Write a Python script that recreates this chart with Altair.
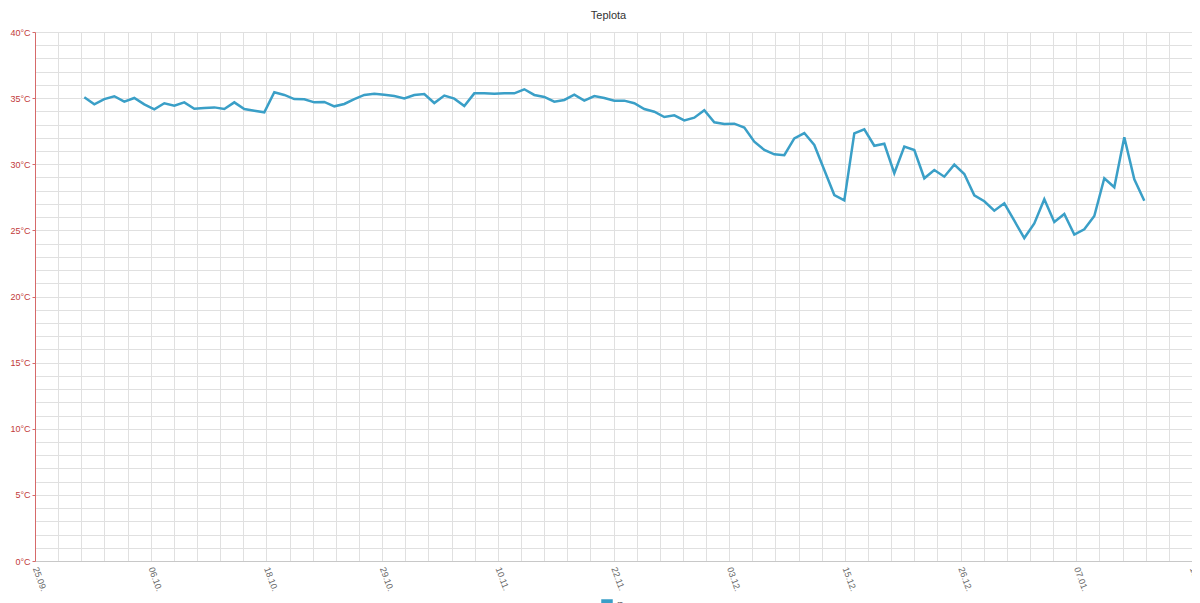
import json
import altair as alt
import pandas as pd

chart_title = "Teplota"
series_name = "n"
tick_labels = ["25.09.", "06.10.", "18.10.", "29.10.", "10.11.", "22.11.",
               "03.12.", "15.12.", "26.12.", "07.01.", "18.01."]

temps = [
    35.06, 34.53, 34.93, 35.14, 34.73, 35.01, 34.53, 34.15, 34.61, 34.43,
    34.68, 34.20, 34.25, 34.30, 34.18, 34.68, 34.18, 34.05, 33.93, 35.44,
    35.24, 34.93, 34.91, 34.68, 34.71, 34.38, 34.56, 34.93, 35.24, 35.33,
    35.26, 35.16, 34.98, 35.24, 35.31, 34.63, 35.19, 34.96, 34.40, 35.36,
    35.36, 35.33, 35.36, 35.36, 35.67, 35.24, 35.09, 34.73, 34.86, 35.26,
    34.81, 35.16, 35.01, 34.81, 34.81, 34.61, 34.18, 33.97, 33.57, 33.70,
    33.32, 33.52, 34.08, 33.17, 33.04, 33.07, 32.77, 31.71, 31.08, 30.75,
    30.68, 31.96, 32.36, 31.46, 29.57, 27.67, 27.27, 32.34, 32.64, 31.40,
    31.55, 29.32, 31.33, 31.08, 28.94, 29.57, 29.06, 29.97, 29.26, 27.65,
    27.20, 26.49, 27.05, 25.73, 24.42, 25.53, 27.35, 25.63, 26.24, 24.68,
    25.08, 26.09, 28.94, 28.26, 32.04, 28.86, 27.24,
]
day_index = list(range(len(temps)))

# axis layout (in day-index units): 10 major intervals, 5 minor grid steps each
x_start = -4.93
major_step = 11.57
minor_step = 2.314
x_grid = [round(x_start + k * minor_step, 4) for k in range(51)]
x_end = x_grid[-1]
y_grid = list(range(0, 41))

df = pd.DataFrame({"i": day_index, "t": temps, "s": [series_name] * len(temps)})

label_expr = (
    f"(round((datum.value - ({x_start})) / {minor_step}) % 5 == 0) ? "
    f"{json.dumps(tick_labels)}[round((datum.value - ({x_start})) / {major_step})] : ''"
)

line_color = "#3a9fc7"
grid_color = "#e0e0e0"
red_axis = "#d66a6a"
red_label = "#c23a3a"

chart = alt.Chart(df).mark_line(strokeWidth=2.5).encode(
    x=alt.X(
        "i:Q",
        scale=alt.Scale(domain=[x_start, x_end], nice=False, zero=False),
        axis=alt.Axis(
            values=x_grid,
            labelExpr=label_expr,
            labelAngle=70,
            labelAlign="left",
            labelBaseline="middle",
            labelFontSize=9,
            labelColor="#666666",
            labelPadding=6,
            labelOverlap=False,
            labelFlush=False,
            ticks=False,
            grid=True,
            gridColor=grid_color,
            gridWidth=1,
            domainColor="#c8c8c8",
            title=None,
        ),
    ),
    y=alt.Y(
        "t:Q",
        scale=alt.Scale(domain=[0, 40], nice=False, zero=True),
        axis=alt.Axis(
            values=y_grid,
            labelExpr="datum.value % 5 === 0 ? datum.value + '°C' : ''",
            tickOpacity={"condition": {"test": "datum.value % 5 === 0", "value": 1}, "value": 0},
            tickSize=3,
            tickColor=red_axis,
            domainColor=red_axis,
            labelColor=red_label,
            labelFontSize=9,
            labelPadding=2,
            labelOverlap=False,
            grid=True,
            gridColor=grid_color,
            gridWidth=1,
            title=None,
        ),
    ),
    color=alt.Color(
        "s:N",
        scale=alt.Scale(range=[line_color]),
        legend=alt.Legend(
            orient="none",
            legendX=566,
            legendY=567,
            title=None,
            symbolType="square",
            symbolSize=100,
            symbolFillColor=line_color,
            symbolStrokeColor=line_color,
            labelFontSize=12,
            labelColor="#666666",
            labelOffset=4,
            padding=0,
        ),
    ),
).properties(
    width=1157,
    height=529,
    autosize="none",
    padding={"left": 27, "top": 24, "right": 0, "bottom": 42},
    title=alt.TitleParams(
        chart_title,
        fontSize=11,
        fontWeight="normal",
        color="#333333",
        font="Liberation Sans",
        anchor="middle",
        frame="group",
        offset=7,
        dx=-5,
    ),
).configure(
    font="Liberation Sans",
).configure_view(
    stroke=None,
)

chart.save("out.html", embed_options={"renderer": "svg", "actions": False})
